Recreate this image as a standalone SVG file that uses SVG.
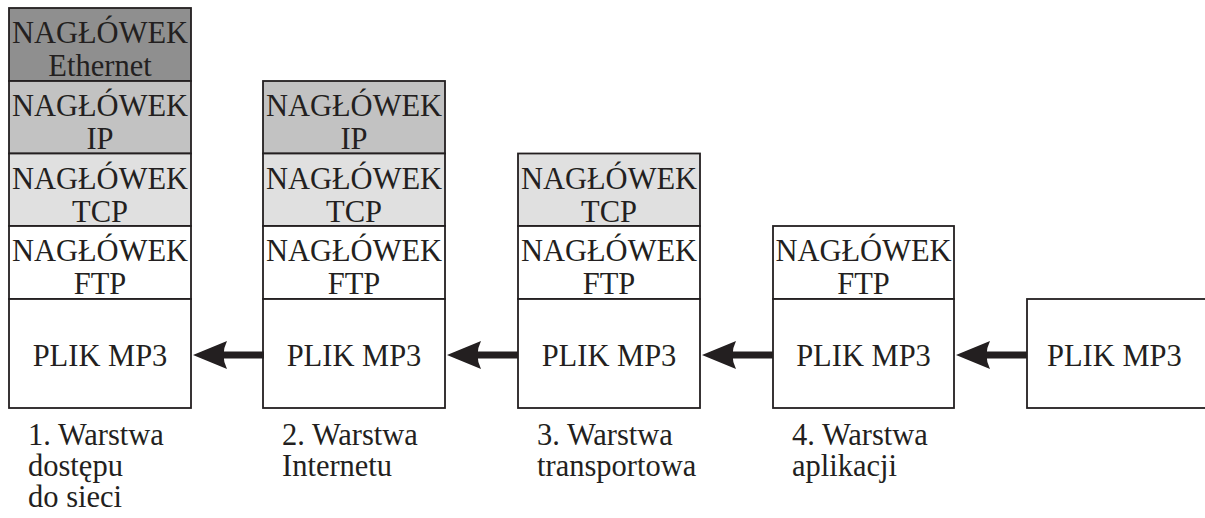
<svg xmlns="http://www.w3.org/2000/svg" width="1205" height="518" viewBox="0 0 1205 518">
<style>
.box{stroke:#231f20;stroke-width:1.8}
.eth{fill:#8f8f8f}
.ip{fill:#c2c2c2}
.tcp{fill:#e0e0e0}
.ftp,.dat{fill:#ffffff}
.t text{font-size:30.5px;fill:#231f20}
.c{text-anchor:middle}
.arr{fill:#231f20}
</style>
<defs>
<path id="arrow" d="M0,0 L34,-14 Q27,0 34,14 Z M26,-3.5 L71,-3.5 L71,3.5 L26,3.5 Z"/>
</defs>
<rect width="1205" height="518" fill="#ffffff"/>
<g class="t" font-family="Liberation Serif, Times New Roman, DejaVu Serif, serif">
<g id="stack1">
<rect class="box eth" x="9" y="8" width="182" height="73"/>
<text class="c" x="100" y="43">NAGŁÓWEK</text><text class="c" x="100" y="76">Ethernet</text>
<rect class="box ip" x="9" y="81" width="182" height="72.5"/>
<text class="c" x="100" y="116">NAGŁÓWEK</text><text class="c" x="100" y="149">IP</text>
<rect class="box tcp" x="9" y="153.5" width="182" height="72.5"/>
<text class="c" x="100" y="189">NAGŁÓWEK</text><text class="c" x="100" y="222">TCP</text>
<rect class="box ftp" x="9" y="226" width="182" height="73"/>
<text class="c" x="100" y="261">NAGŁÓWEK</text><text class="c" x="100" y="294">FTP</text>
<rect class="box dat" x="9" y="299" width="182" height="109"/>
<text class="c" x="100" y="366">PLIK MP3</text>
</g>
<g id="stack2">
<rect class="box ip" x="263" y="81" width="182" height="72.5"/>
<text class="c" x="354" y="116">NAGŁÓWEK</text><text class="c" x="354" y="149">IP</text>
<rect class="box tcp" x="263" y="153.5" width="182" height="72.5"/>
<text class="c" x="354" y="189">NAGŁÓWEK</text><text class="c" x="354" y="222">TCP</text>
<rect class="box ftp" x="263" y="226" width="182" height="73"/>
<text class="c" x="354" y="261">NAGŁÓWEK</text><text class="c" x="354" y="294">FTP</text>
<rect class="box dat" x="263" y="299" width="182" height="109"/>
<text class="c" x="354" y="366">PLIK MP3</text>
</g>
<g id="stack3">
<rect class="box tcp" x="518" y="153.5" width="182" height="72.5"/>
<text class="c" x="609" y="189">NAGŁÓWEK</text><text class="c" x="609" y="222">TCP</text>
<rect class="box ftp" x="518" y="226" width="182" height="73"/>
<text class="c" x="609" y="261">NAGŁÓWEK</text><text class="c" x="609" y="294">FTP</text>
<rect class="box dat" x="518" y="299" width="182" height="109"/>
<text class="c" x="609" y="366">PLIK MP3</text>
</g>
<g id="stack4">
<rect class="box ftp" x="773" y="226" width="181" height="73"/>
<text class="c" x="863.5" y="261">NAGŁÓWEK</text><text class="c" x="863.5" y="294">FTP</text>
<rect class="box dat" x="773" y="299" width="181" height="109"/>
<text class="c" x="863.5" y="366">PLIK MP3</text>
</g>
<g id="stack5">
<rect class="box dat" x="1027" y="299" width="190" height="109"/>
<text x="1047" y="366">PLIK MP3</text>
</g>
<g id="connectors" class="arr">
<use href="#arrow" x="193" y="355"/>
<use href="#arrow" x="447" y="355"/>
<use href="#arrow" x="702" y="355"/>
<use href="#arrow" x="956" y="355"/>
</g>
<g id="labels">
<text x="28" y="445">1. Warstwa</text>
<text x="28" y="476">dostępu</text>
<text x="28" y="507">do sieci</text>
<text x="282" y="445">2. Warstwa</text>
<text x="282" y="476">Internetu</text>
<text x="537" y="445">3. Warstwa</text>
<text x="537" y="476">transportowa</text>
<text x="792" y="445">4. Warstwa</text>
<text x="792" y="476">aplikacji</text>
</g>
</g>
</svg>
